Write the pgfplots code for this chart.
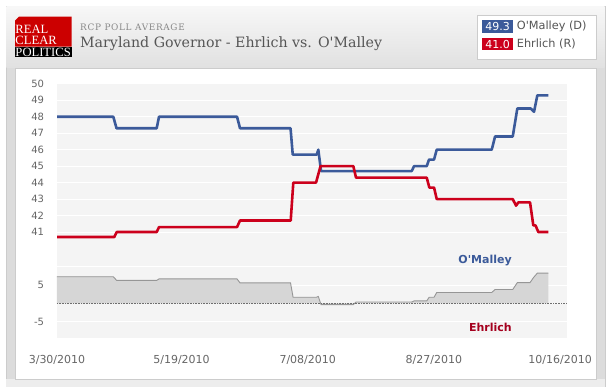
\documentclass[border=0pt]{standalone}
\usepackage{pgfplots}
\pgfplotsset{compat=1.18}
\usepackage{fontspec}
\setmainfont{DejaVu Sans}
\newfontfamily\titlefont{DejaVu Serif}
\newfontfamily\rcpfont[LetterSpace=7.5]{DejaVu Serif}
\newfontfamily\logofont{Liberation Serif}
\definecolor{omc}{RGB}{59,90,154}
\definecolor{ehc}{RGB}{204,0,28}
\definecolor{ehlab}{RGB}{165,0,30}
\definecolor{bgc}{RGB}{244,244,244}
\definecolor{tickc}{RGB}{102,102,102}
\definecolor{framec}{RGB}{220,220,220}
\definecolor{bordc}{RGB}{204,204,204}
\definecolor{fillc}{RGB}{214,214,214}
\definecolor{sprc}{RGB}{150,150,150}
\definecolor{zc}{RGB}{110,110,110}
\definecolor{titc}{RGB}{85,85,85}
\definecolor{rcpc}{RGB}{136,136,136}
\definecolor{logored}{RGB}{204,0,0}
\pgfplotsset{rcp/.style={scale only axis, width=509.7pt, xmin=0.67, xmax=202.6,
  axis line style={draw=none}, tick style={draw=none},
  axis background/.style={fill=bgc},
  ymajorgrids, grid style={white, line width=1pt},
  tick label style={text=tickc},
  yticklabel style={font=\fontsize{10}{12}\selectfont, anchor=east, inner sep=0pt, xshift=-12.7pt}}}
\begin{document}
\begin{tikzpicture}
\begin{scope}[x=1pt,y=1pt]
\fill[white] (0,0) rectangle (613,387);
\fill[framec] (6,0) rectangle (605,381);
\draw[bordc, line width=0.6pt] (6,0) -- (6,381) -- (605,381) -- (605,0);
\shade[top color=white!97!black, bottom color=white!88!black] (6.3,319) rectangle (604.7,380.7);
\fill[white!93!black] (6.3,0) rectangle (604.7,8);
\fill[white] (15,8) rectangle (596,319);
\draw[bordc, line width=0.6pt] (15,8) rectangle (596,319);
% logo
\fill[logored] (15,340.3) -- (71.7,340.3) -- (71.7,370.3) -- (19,370.3) -- (15,366.3) -- cycle;
\fill[black] (15,329.7) rectangle (71.7,340.3);
\node[anchor=base west, inner sep=0, text=white, font=\logofont\fontsize{12.6}{12.6}\selectfont] at (15.3,353.7) {REAL};
\node[anchor=base west, inner sep=0, text=white, font=\logofont\fontsize{12.6}{12.6}\selectfont] at (15.3,342.2) {CLEAR};
\node[anchor=base west, inner sep=0, text=white, font=\logofont\fontsize{12.6}{12.6}\selectfont] at (15.3,330.6) {POLITICS};
% titles
\node[anchor=base west, inner sep=0, text=rcpc, font=\rcpfont\fontsize{8.9}{9}\selectfont] at (80,356.3) {RCP POLL AVERAGE};
\node[anchor=base west, inner sep=0, text=titc, font=\titlefont\fontsize{14.2}{15}\selectfont] at (80,339.3) {Maryland Governor - Ehrlich vs. O\textquotesingle Malley};
% legend
\draw[bordc, fill=white, line width=0.6pt] (477,327.7) rectangle (596,372);
\fill[omc] (482,353.7) rectangle (513.3,367);
\node[text=white, inner sep=0, font=\fontsize{11}{11}\selectfont] at (497.7,360.3) {49.3};
\node[anchor=west, inner sep=0, text=titc, font=\fontsize{11.3}{12}\selectfont] at (516.7,360.3) {O\textquotesingle Malley (D)};
\fill[ehc] (482,337) rectangle (513.3,348.7);
\node[text=white, inner sep=0, font=\fontsize{11}{11}\selectfont] at (497.7,342.8) {41.0};
\node[anchor=west, inner sep=0, text=titc, font=\fontsize{11.3}{12}\selectfont] at (516.7,342.8) {Ehrlich (R)};
\end{scope}

% upper panel
\begin{axis}[rcp, at={(57pt,138.5pt)}, anchor=south west, height=164.7pt,
  ymin=40, ymax=50, ytick={41,42,43,44,45,46,47,48,49,50},
  yticklabels={41,42,43,44,45,46,47,48,49,50}, xtick=\empty]
\draw[bordc, line width=1pt] (rel axis cs:0,0) -- (rel axis cs:1,0);
\addplot[omc, line width=2.6pt, line join=round, mark=none] coordinates {
(0.67,48.0) (22.98,48.0) (24.25,47.3) (40.17,47.3) (41.09,48.0) (71.99,48.0) (73.18,47.3) (93.19,47.3) (94.06,45.7) (103.57,45.7) (104.20,46.0) (105.27,44.7) (141.20,44.7) (142.12,45.0) (147.15,45.0) (148.06,45.4) (150.04,45.4) (151.11,46.0) (172.90,46.0) (174.21,46.8) (181.22,46.8) (183.04,48.5) (188.35,48.5) (189.66,48.3) (190.97,49.3) (195.32,49.3)};
\addplot[ehc, line width=2.6pt, line join=round, mark=none] coordinates {
(0.67,40.7) (23.38,40.7) (24.33,41.0) (40.17,41.0) (41.09,41.3) (71.99,41.3) (73.18,41.7) (93.26,41.7) (94.29,44.0) (103.29,44.0) (105.07,45.0) (118.07,45.0) (119.14,44.3) (147.15,44.3) (148.18,43.7) (150.04,43.7) (151.11,43.0) (181.22,43.0) (182.53,42.6) (183.44,42.8) (188.07,42.8) (189.38,41.4) (190.25,41.4) (191.36,41.0) (195.32,41.0)};
\end{axis}

% lower panel
\begin{axis}[rcp, at={(57pt,48.7pt)}, anchor=south west, height=89.8pt,
  ymin=-9.5, ymax=15, ytick={-5,0,5,10}, yticklabels={-5,,5,},
  xtick={0.67,50,100,150,200},
  xticklabels={3/30/2010,5/19/2010,7/08/2010,8/27/2010,10/16/2010},
  xticklabel style={font=\fontsize{11}{13}\selectfont, anchor=base, yshift=-25pt}, clip=false]
\addplot[fill=fillc, draw=none, mark=none] coordinates {
(0.67,0) (0.67,7.3) (22.98,7.3) (24.3,6.3) (40.17,6.3) (41.09,6.7) (71.99,6.7) (73.18,5.6) (93.19,5.6) (94.2,1.7) (103.4,1.7) (104.2,1.9) (105.27,-0.3) (118.07,-0.3) (119.14,0.4) (141.20,0.4) (142.12,0.7) (147.15,0.7) (148.1,1.7) (150.04,1.7) (151.11,3.0) (172.90,3.0) (174.21,3.8) (181.22,3.8) (183.04,5.7) (188.07,5.7) (189.38,7.0) (190.97,8.3) (195.32,8.3) (195.32,0)};
\addplot[sprc, line width=0.9pt, mark=none] coordinates {
(0.67,7.3) (22.98,7.3) (24.3,6.3) (40.17,6.3) (41.09,6.7) (71.99,6.7) (73.18,5.6) (93.19,5.6) (94.2,1.7) (103.4,1.7) (104.2,1.9) (105.27,-0.3) (118.07,-0.3) (119.14,0.4) (141.20,0.4) (142.12,0.7) (147.15,0.7) (148.1,1.7) (150.04,1.7) (151.11,3.0) (172.90,3.0) (174.21,3.8) (181.22,3.8) (183.04,5.7) (188.07,5.7) (189.38,7.0) (190.97,8.3) (195.32,8.3)};
\draw[zc, line width=1pt, dash pattern=on 0.8pt off 0.8pt] (axis cs:0.67,0) -- (axis cs:202.6,0);
\node[anchor=east, inner sep=0, text=omc, font=\bfseries\fontsize{11}{12}\selectfont] at (axis cs:180.9,11.7) {O\textquotesingle Malley};
\node[anchor=east, inner sep=0, text=ehlab, font=\bfseries\fontsize{11}{12}\selectfont] at (axis cs:180.9,-6.6) {Ehrlich};
\end{axis}
\end{tikzpicture}
\end{document}
